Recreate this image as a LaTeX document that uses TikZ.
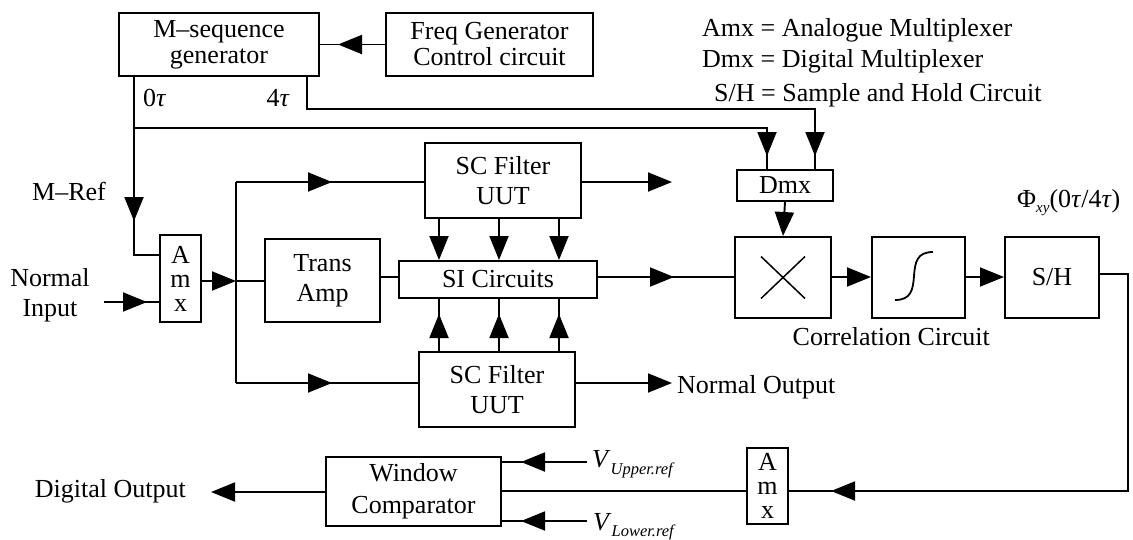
\documentclass[tikz,border=0pt]{standalone}
\usepackage{fontspec}
\setmainfont{Liberation Serif}
\usetikzlibrary{arrows.meta,decorations.markings,calc}
\tikzset{
  every node/.style={font=\fontsize{26}{30}\selectfont},
  blk/.style={draw, line width=2pt, inner sep=0pt, align=center},
  wire/.style={line width=1.9pt},
  arr/.style={wire, -{Triangle[length=24pt,width=19pt]}},
  tipat/.style={wire, postaction={decorate}, decoration={markings, mark=at position #1 with {\arrow{Triangle[length=24pt,width=19pt]}}}},
  lbl/.style={inner sep=0pt}
}
\begin{document}
\begin{tikzpicture}[x=1pt,y=-1pt]
\useasboundingbox (0,0) rectangle (1133,539);
% blocks
\node[blk, minimum width=200pt, minimum height=63pt, font=\fontsize{26}{26}\selectfont] (mseq) at (219,44.5) {M–sequence\\generator};
\node[blk, minimum width=207pt, minimum height=63pt, font=\fontsize{26}{26}\selectfont] (freq) at (489.5,44.5) {Freq Generator\\Control circuit};
\node[blk, minimum width=41pt, minimum height=87pt, font=\fontsize{26}{24}\selectfont] (amx1) at (180.5,278.5) {A\\m\\x};
\node[blk, minimum width=115pt, minimum height=83pt] (trans) at (322.5,280.5) {Trans\\Amp};
\node[blk, minimum width=156pt, minimum height=75pt] (sctop) at (503,180.5) {SC Filter\\UUT};
\node[blk, minimum width=198pt, minimum height=37pt] (si) at (498,279.5) {SI Circuits};
\node[blk, minimum width=156pt, minimum height=75pt] (scbot) at (497,389.5) {SC Filter\\UUT};
\node[blk, minimum width=96pt, minimum height=31pt] (dmx) at (785,185.5) {Dmx};
\node[blk, minimum width=96pt, minimum height=81pt] (mult) at (783,277.5) {};
\node[blk, minimum width=93pt, minimum height=81pt] (sig) at (918.5,277.5) {};
\node[blk, minimum width=94pt, minimum height=81pt] (sh) at (1052,277.5) {S/H};
\node[blk, minimum width=41pt, minimum height=76pt, font=\fontsize{26}{24}\selectfont] (amx2) at (767.5,486) {A\\m\\x};
\node[blk, minimum width=175pt, minimum height=69pt, font=\fontsize{26}{32}\selectfont] (win) at (413.5,491.5) {Window\\Comparator};
% block symbols
\draw[line width=1.5pt] ($(mult.center)+(-22,-21)$) -- ($(mult.center)+(22,21)$);
\draw[line width=1.5pt] ($(mult.center)+(-22,21)$) -- ($(mult.center)+(22,-21)$);
\draw[line width=1.8pt] (895,300) .. controls (911,300) and (913,290) .. (914,276) .. controls (915,262) and (917,252) .. (933,252);
% labels
\node[lbl, anchor=base west] (t0) at (143,106) {0\textit{τ}};
\node[lbl, anchor=base east] (t4) at (290,106) {4\textit{τ}};
\node[lbl, anchor=base west] (mref) at (32,200) {M–Ref};
\node[lbl, align=center, font=\fontsize{26}{30}\selectfont] (nin) at (50,295) {Normal\\Input};
\node[lbl, anchor=base west] (leg1) at (702,36) {Amx = Analogue Multiplexer};
\node[lbl, anchor=base west] (leg2) at (702,67) {Dmx = Digital Multiplexer};
\node[lbl, anchor=base west] (leg3) at (714,101) {S/H = Sample and Hold Circuit};
\node[lbl, anchor=base west] (phi) at (1017,207) {Φ\raisebox{-0.22em}{\fontsize{15}{15}\selectfont\textit{xy}}(0\textit{τ}/4\textit{τ})};
\node[lbl, anchor=base east] (corr) at (990,345) {Correlation Circuit};
\node[lbl, anchor=base west] (nout) at (677,393) {Normal Output};
\node[lbl, anchor=base west] (vup) at (592,467) {\textit{V}\raisebox{-0.28em}{\fontsize{16.5}{16.5}\selectfont\textit{Upper.ref}}};
\node[lbl, anchor=base west] (vlo) at (593,530) {\textit{V}\raisebox{-0.24em}{\fontsize{16.5}{16.5}\selectfont\textit{Lower.ref}}};
\node[lbl, anchor=base east] (dig) at (186,497) {Digital Output};
% coordinates
\coordinate (p0) at (134,0);
\coordinate (p4) at (307,0);
\coordinate (ya) at (0,255);
\coordinate (j1) at (134,128);
\coordinate (d1) at (767,128);
\coordinate (d2) at (815,109);
\coordinate (ni) at (104,302);
\coordinate (b1) at (236,281);
\coordinate (btop) at (236,182);
\coordinate (bbot) at (236,383);
\coordinate (c1) at (439,0);
\coordinate (c2) at (499,0);
\coordinate (c3) at (559,0);
\coordinate (o1) at (672,182);
\coordinate (o2) at (672,383);
\coordinate (rowy) at (0,277);
\coordinate (r1) at (1128,274);
\coordinate (r2) at (1128,491);
\coordinate (vu) at (587,462);
\coordinate (vl) at (587,521);
\coordinate (dout) at (211,492);
% connectors
\draw[tipat=-18pt] (freq.west) -- (mseq.east);
\draw[tipat=144pt] (mseq.south -| p0) -- (p0 |- ya) -- (amx1.west |- ya);
\draw[tipat=-13pt] (j1) -| (dmx.north -| d1);
\draw[tipat=-13pt] (mseq.south -| p4) |- (d2) -- (dmx.north -| d2);
\draw[tipat=-12pt] (ni) -- (amx1.west |- ni);
\draw[arr] (amx1.east |- b1) -- (b1);
\draw[wire] (btop) -- (bbot);
\draw[tipat=96pt] (btop) -- (sctop.west |- btop);
\draw[tipat=96pt] (bbot) -- (scbot.west |- bbot);
\draw[wire] (b1) -- (trans.west |- b1);
\draw[wire] (trans.east |- rowy) -- (si.west |- rowy);
\foreach \c in {c1,c2,c3} {
  \draw[arr] (sctop.south -| \c) -- (si.north -| \c);
  \draw[tipat=-15pt] (scbot.north -| \c) -- (si.south -| \c);
}
\draw[arr] (sctop.east |- btop) -- (o1);
\draw[arr] (scbot.east |- bbot) -- (o2);
\draw[tipat=76pt] (si.east |- rowy) -- (mult.west |- rowy);
\draw[arr] (dmx.south) -- (mult.north);
\draw[arr] (mult.east |- rowy) -- (sig.west |- rowy);
\draw[arr] (sig.east |- rowy) -- (sh.west |- rowy);
\draw[tipat=-42pt] (sh.east |- r1) -- (r1) -- (r2) -- (amx2.east |- r2);
\draw[wire] (amx2.west |- r2) -- (win.east |- r2);
\draw[tipat=-19pt] (vu) -- (win.east |- vu);
\draw[tipat=-19pt] (vl) -- (win.east |- vl);
\draw[arr] (win.west |- dout) -- (dout);
\end{tikzpicture}
\end{document}
